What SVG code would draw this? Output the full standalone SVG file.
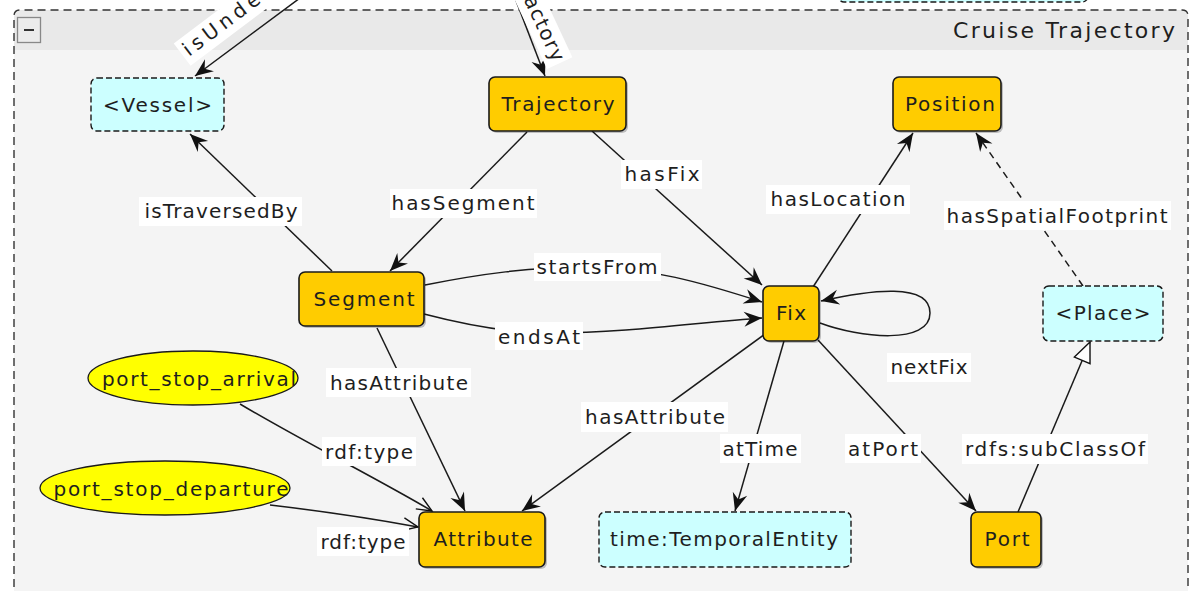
<svg xmlns="http://www.w3.org/2000/svg" width="1192" height="591" viewBox="0 0 1192 591">
  <style>
    text { font-family: "DejaVu Sans", "Liberation Sans", sans-serif; font-size: 20px; fill: #1e1e1e; }
    .cls { fill: #ffcc00; stroke: #1a1a1a; stroke-width: 1.6; }
    .ext { fill: #ccffff; stroke: #1a1a1a; stroke-width: 1.4; stroke-dasharray: 6 3; }
    .ind { fill: #ffff00; stroke: #1a1a1a; stroke-width: 1.3; }
    .shadow { fill: #000; opacity: 0.22; }
    .edge { fill: none; stroke: #1a1a1a; stroke-width: 1.5; }
    .dash { stroke-dasharray: 7 5; }
    .lbl { fill: #ffffff; }
    .mid { text-anchor: middle; }
  </style>
  <defs>
    <marker id="arrow" markerUnits="userSpaceOnUse" markerWidth="22" markerHeight="22" viewBox="-20 -10 22 20" refX="0" refY="0" orient="auto">
      <path d="M0,0 L-18,-7.5 L-12,0 L-18,7.5 Z" fill="#111"/>
    </marker>
    <marker id="open" markerUnits="userSpaceOnUse" markerWidth="20" markerHeight="20" viewBox="-18 -9 20 18" refX="0" refY="0" orient="auto">
      <path d="M-15,-6.5 L0,0 L-15,6.5" fill="none" stroke="#111" stroke-width="1.4"/>
    </marker>
    <marker id="triangle" markerUnits="userSpaceOnUse" markerWidth="24" markerHeight="24" viewBox="-22 -11 24 22" refX="0" refY="0" orient="auto">
      <path d="M0,0 L-20,-8.5 L-20,8.5 Z" fill="#ffffff" stroke="#111" stroke-width="1.4"/>
    </marker>
  </defs>

  <rect width="1192" height="591" fill="#ffffff"/>

  <!-- box just above the group, mostly outside the view -->
  <rect x="838" y="-40" width="250" height="42" rx="6" class="ext"/>

  <!-- group container "Cruise Trajectory" -->
  <g id="group-cruise-trajectory">
    <path d="M14,50 L14,16 Q14,10 20,10 L1182,10 Q1188,10 1188,16 L1188,50 Z" fill="#e9e9e9"/>
    <rect x="14" y="50" width="1174" height="560" fill="#f4f4f4"/>
    <path d="M14,600 L14,16 Q14,10 20,10 L1182,10 Q1188,10 1188,16 L1188,600" fill="none" stroke="#333" stroke-width="1.4" stroke-dasharray="8 5"/>
    <rect x="17.5" y="17.5" width="23" height="25" fill="#ececec" stroke="#888" stroke-width="1.3"/>
    <line x1="24" y1="30" x2="34" y2="30" stroke="#333" stroke-width="2"/>
    <text x="1175" y="38" text-anchor="end" textLength="222" lengthAdjust="spacing" style="font-size:22px">Cruise Trajectory</text>
  </g>

  <!-- connectors -->
  <g id="connectors">
    <!-- incoming from outside the group -->
    <path class="edge" d="M300,-2 L195,76" marker-end="url(#arrow)"/>
    <g transform="translate(189,57) rotate(-37)">
      <rect x="-4" y="-20" width="115" height="28" class="lbl"/>
      <text x="0" y="0" textLength="104" lengthAdjust="spacing">isUnder</text>
    </g>
    <path class="edge" d="M515,-2 L545,76" marker-end="url(#arrow)"/>
    <g transform="translate(553,63) rotate(65)">
      <rect x="-74" y="-20" width="77" height="28" class="lbl"/>
      <text x="0" y="0" text-anchor="end" textLength="70" lengthAdjust="spacing">actory</text>
    </g>

    <path class="edge" d="M332,271 L190,134" marker-end="url(#arrow)"/>
    <path class="edge" d="M527,132 L390,271" marker-end="url(#arrow)"/>
    <path class="edge" d="M592,131 L762,285" marker-end="url(#arrow)"/>
    <path class="edge" d="M813,287 L913,133" marker-end="url(#arrow)"/>
    <path class="edge dash" d="M1083,286 L976,133" marker-end="url(#arrow)"/>
    <path class="edge" d="M425,285 C480,274 530,267 590,267 C650,268 700,282 762,302" marker-end="url(#arrow)"/>
    <path class="edge" d="M424,314 C470,326 510,333 550,333 C630,333 700,322 762,318" marker-end="url(#arrow)"/>
    <path class="edge" d="M820,323 C860,338 930,345 930,313 C930,282 870,290 821,301" marker-end="url(#arrow)"/>
    <path class="edge" d="M377,328 L465,511" marker-end="url(#arrow)"/>
    <path class="edge" d="M765,334 L522,511" marker-end="url(#arrow)"/>
    <path class="edge" d="M784,341 L735,511" marker-end="url(#arrow)"/>
    <path class="edge" d="M818,340 L976,511" marker-end="url(#arrow)"/>
    <path class="edge" d="M1018,512 L1090,342" marker-end="url(#triangle)"/>
    <path class="edge" d="M240,404 C300,440 380,480 432,511" marker-end="url(#open)"/>
    <path class="edge" d="M270,505 C330,512 380,520 418,527" marker-end="url(#open)"/>

    <!-- edge labels -->
    <rect x="139" y="197" width="163" height="29" class="lbl"/>
    <text x="221" y="218" class="mid" textLength="153" lengthAdjust="spacing">isTraversedBy</text>
    <rect x="390" y="189" width="147" height="29" class="lbl"/>
    <text x="463" y="210" class="mid" textLength="143" lengthAdjust="spacing">hasSegment</text>
    <rect x="621" y="160" width="81" height="29" class="lbl"/>
    <text x="662" y="181" class="mid" textLength="75" lengthAdjust="spacing">hasFix</text>
    <rect x="766" y="185" width="144" height="29" class="lbl"/>
    <text x="838" y="206" class="mid" textLength="135" lengthAdjust="spacing">hasLocation</text>
    <rect x="944" y="201" width="227" height="29" class="lbl"/>
    <text x="1057" y="223" class="mid" textLength="221" lengthAdjust="spacing">hasSpatialFootprint</text>
    <rect x="534" y="253" width="127" height="28" class="lbl"/>
    <text x="597" y="274" class="mid" textLength="121" lengthAdjust="spacing">startsFrom</text>
    <rect x="495" y="322" width="88" height="28" class="lbl"/>
    <text x="539" y="344" class="mid" textLength="82" lengthAdjust="spacing">endsAt</text>
    <rect x="887" y="353" width="84" height="29" class="lbl"/>
    <text x="929" y="374" class="mid" textLength="77" lengthAdjust="spacing">nextFix</text>
    <rect x="326" y="368" width="145" height="29" class="lbl"/>
    <text x="399" y="390" class="mid" textLength="138" lengthAdjust="spacing">hasAttribute</text>
    <rect x="581" y="402" width="147" height="30" class="lbl"/>
    <text x="655" y="424" class="mid" textLength="140" lengthAdjust="spacing">hasAttribute</text>
    <rect x="720" y="434" width="81" height="29" class="lbl"/>
    <text x="760" y="456" class="mid" textLength="75" lengthAdjust="spacing">atTime</text>
    <rect x="845" y="434" width="76" height="29" class="lbl"/>
    <text x="883" y="456" class="mid" textLength="70" lengthAdjust="spacing">atPort</text>
    <rect x="962" y="434" width="186" height="30" class="lbl"/>
    <text x="1055" y="456" class="mid" textLength="180" lengthAdjust="spacing">rdfs:subClassOf</text>
    <rect x="322" y="437" width="94" height="29" class="lbl"/>
    <text x="369" y="459" class="mid" textLength="88" lengthAdjust="spacing">rdf:type</text>
    <rect x="317" y="527" width="92" height="29" class="lbl"/>
    <text x="363" y="549" class="mid" textLength="85" lengthAdjust="spacing">rdf:type</text>
  </g>

  <!-- class nodes -->
  <g id="node-vessel">
    <rect x="91" y="78" width="133" height="53" rx="6" class="ext"/>
    <text x="157.5" y="112" class="mid" textLength="109" lengthAdjust="spacing">&lt;Vessel&gt;</text>
  </g>
  <g id="node-trajectory">
    <rect x="491" y="79" width="137" height="54" rx="6" class="shadow"/>
    <rect x="489" y="77" width="137" height="54" rx="6" class="cls"/>
    <text x="558" y="111" class="mid" textLength="113" lengthAdjust="spacing">Trajectory</text>
  </g>
  <g id="node-position">
    <rect x="895" y="79" width="108" height="54" rx="6" class="shadow"/>
    <rect x="893" y="77" width="108" height="54" rx="6" class="cls"/>
    <text x="950" y="111" class="mid" textLength="90" lengthAdjust="spacing">Position</text>
  </g>
  <g id="node-segment">
    <rect x="301" y="274" width="125" height="54" rx="6" class="shadow"/>
    <rect x="299" y="272" width="125" height="54" rx="6" class="cls"/>
    <text x="364" y="306" class="mid" textLength="101" lengthAdjust="spacing">Segment</text>
  </g>
  <g id="node-fix">
    <rect x="765" y="288" width="56" height="55" rx="6" class="shadow"/>
    <rect x="763" y="286" width="56" height="55" rx="6" class="cls"/>
    <text x="791" y="320" class="mid" textLength="30" lengthAdjust="spacing">Fix</text>
  </g>
  <g id="node-place">
    <rect x="1043" y="286" width="120" height="55" rx="6" class="ext"/>
    <text x="1103" y="320" class="mid" textLength="95" lengthAdjust="spacing">&lt;Place&gt;</text>
  </g>
  <g id="node-attribute">
    <rect x="421" y="514" width="126" height="55" rx="6" class="shadow"/>
    <rect x="419" y="512" width="126" height="55" rx="6" class="cls"/>
    <text x="483" y="546" class="mid" textLength="99" lengthAdjust="spacing">Attribute</text>
  </g>
  <g id="node-temporal-entity">
    <rect x="599" y="512" width="252" height="55" rx="6" class="ext"/>
    <text x="724" y="546" class="mid" textLength="228" lengthAdjust="spacing">time:TemporalEntity</text>
  </g>
  <g id="node-port">
    <rect x="973" y="514" width="70" height="55" rx="6" class="shadow"/>
    <rect x="971" y="512" width="70" height="55" rx="6" class="cls"/>
    <text x="1007" y="546" class="mid" textLength="45" lengthAdjust="spacing">Port</text>
  </g>

  <!-- individuals -->
  <g id="node-port-stop-arrival">
    <ellipse cx="193" cy="378" rx="105" ry="27" class="ind"/>
    <text x="199" y="386" class="mid" textLength="194" lengthAdjust="spacing">port_stop_arrival</text>
  </g>
  <g id="node-port-stop-departure">
    <ellipse cx="165" cy="488" rx="125" ry="27" class="ind"/>
    <text x="171" y="496" class="mid" textLength="235" lengthAdjust="spacing">port_stop_departure</text>
  </g>
</svg>
